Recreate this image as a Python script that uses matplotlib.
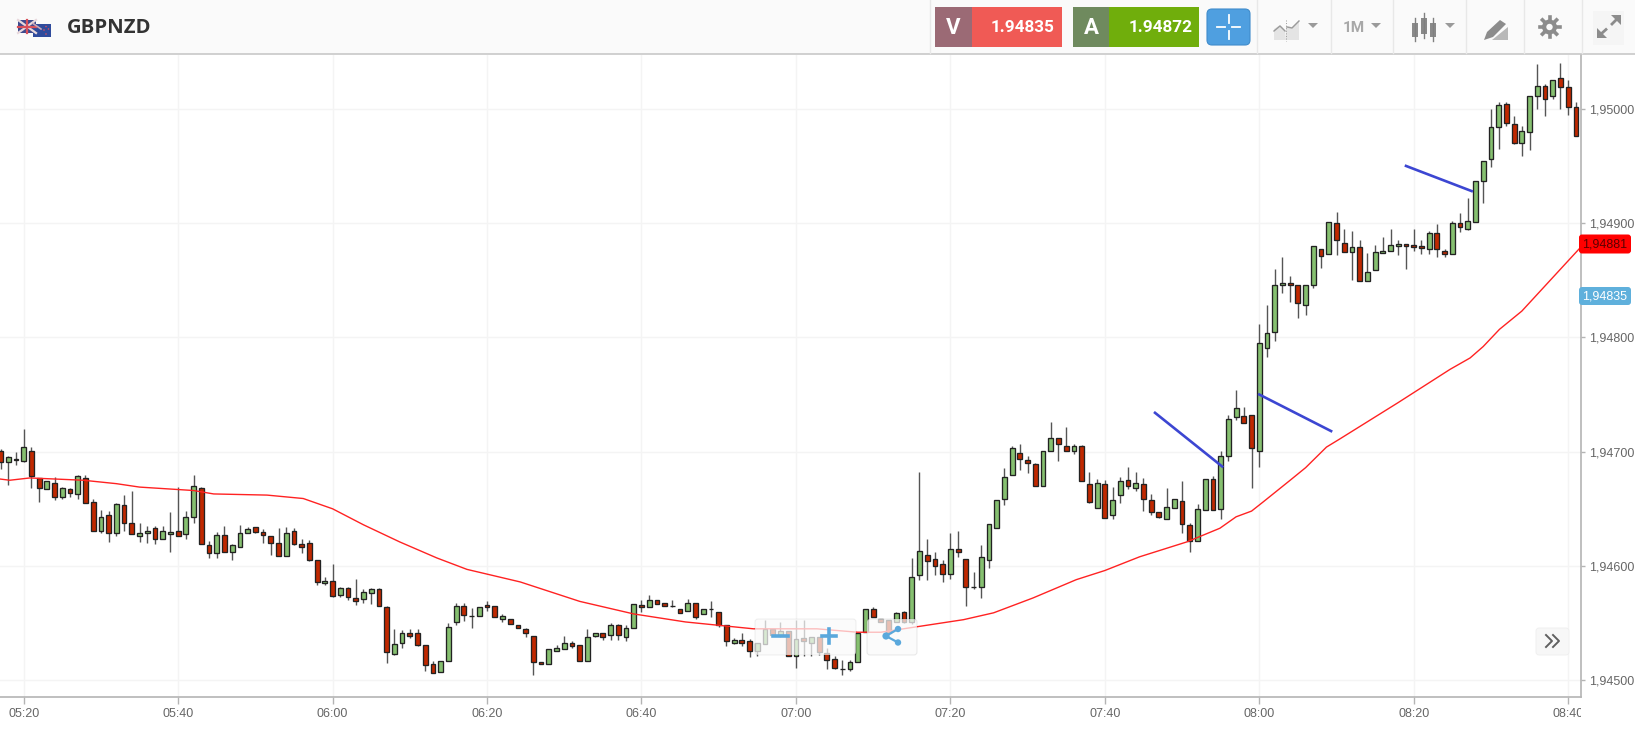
#GBPNZD 1 minute candles
import numpy as np
import matplotlib
matplotlib.use('Agg')
import matplotlib.pyplot as plt
from matplotlib.patches import Rectangle, FancyBboxPatch, Circle, Polygon
from matplotlib.transforms import Bbox

W, H = 1635, 729
BASE = 1.945  # candle values below are in points (0.00001) above this

# one candle per minute, first one is 3 minutes before 05:20
first_minute = -3
opens = [201,191,194,192,
    201,177,167,173,160,167,163,177,156,131,
    145,129,153,138,126,129,133,124,128,131,
    128,143,168,118,111,127,112,117,129,134,
    130,126,120,109,131,119,120,105,85,87,
    75,81,72,71,76,80,64,23,33,41,
    41,31,14,7,17,51,65,56,56,66,
    65,54,54,48,45,39,16,14,26,27,
    33,31,17,39,41,40,48,38,46,66,
    64,70,68,65,62,61,68,58,62,60,
    48,33,35,34,26,32,45,40,43,21,
    37,33,38,24,19,10,10,16,42,62,
    54,53,51,60,51,92,110,106,102,93,
    115,106,82,82,105,133,159,180,199,193,
    189,170,201,212,205,201,205,172,151,172,
    145,162,175,168,172,158,147,141,151,157,
    136,122,149,176,150,196,230,231,232,201,
    291,305,346,348,346,328,346,377,373,400,
    383,375,379,349,359,374,376,380,382,381,
    380,377,391,376,373,400,395,401,437,456,
    484,504,487,470,480,511,520,511,527,519,
    502]
highs = [202,196,200,220,
    204,177,174,178,169,168,180,180,159,149,
    148,155,162,166,138,135,135,135,147,169,
    148,180,169,122,130,135,119,136,134,134,
    132,126,133,134,133,124,123,105,90,102,
    82,82,89,80,81,81,65,45,44,45,
    45,31,17,17,50,68,68,63,64,69,
    65,58,54,48,46,39,16,27,31,39,
    34,31,45,41,41,50,49,48,67,70,
    75,70,68,70,62,71,68,62,69,60,
    48,37,41,36,33,53,45,51,43,53,
    53,38,38,28,21,18,18,41,62,64,
    54,53,60,61,107,182,124,112,105,129,
    131,106,95,118,137,158,186,205,207,196,
    190,201,226,212,222,207,206,182,176,175,
    169,178,187,182,177,163,147,168,159,174,
    138,154,176,179,201,232,254,239,232,312,
    328,360,370,354,346,346,380,377,401,410,
    395,393,385,374,381,388,395,385,382,395,
    385,393,399,377,402,409,422,437,454,500,
    506,506,494,485,511,539,522,525,540,525,
    506]
lows = [185,171,188,191,
    168,156,167,158,159,160,159,155,131,129,
    121,126,131,128,121,120,119,124,112,126,
    124,138,119,107,107,112,105,117,129,129,
    120,110,109,109,118,111,104,83,83,73,
    73,70,66,68,67,65,15,22,28,37,
    30,8,6,7,17,48,52,46,56,61,
    55,51,49,46,38,5,14,14,26,27,
    28,17,17,38,35,35,35,34,46,60,
    64,67,65,64,59,61,54,58,55,47,
    30,32,30,20,21,32,40,38,21,11,
    21,21,22,10,10,5,8,16,42,55,
    51,41,51,50,49,88,88,92,86,89,
    108,65,80,72,98,133,153,180,184,181,
    170,170,201,192,201,198,174,155,151,142,
    141,155,167,166,148,145,142,141,151,129,
    112,122,149,149,141,192,228,225,168,187,
    283,297,339,331,317,320,343,361,373,372,
    375,350,349,349,359,374,376,372,360,376,
    373,373,370,370,373,392,394,401,418,449,
    465,485,469,459,464,500,494,509,500,495,
    476]
closes = [191,195,193,204,
    179,168,174,160,168,164,179,155,131,143,
    129,154,138,128,129,131,124,131,130,126,
    143,170,119,111,127,112,118,129,132,130,
    127,120,109,129,119,117,105,86,87,74,
    81,73,69,77,80,65,25,32,41,39,
    31,13,6,17,47,65,57,56,64,64,
    55,56,49,46,41,16,14,27,28,33,
    30,17,38,41,38,48,40,46,67,64,
    70,67,65,65,59,68,55,62,62,48,
    34,35,33,26,33,45,40,43,21,36,
    34,38,25,18,11,10,16,41,62,55,
    51,41,59,51,90,113,104,100,93,115,
    112,82,82,108,137,158,178,203,194,190,
    170,201,212,207,201,205,174,156,173,142,
    158,174,170,173,159,147,143,152,159,137,
    122,150,176,149,196,229,238,225,203,295,
    304,346,348,346,330,346,380,371,401,385,
    375,379,349,357,375,376,381,382,380,379,
    378,391,377,373,400,397,402,437,454,484,
    503,488,470,481,511,520,509,525,519,502,
    476]

# red moving average, read at its bends
ma_minutes = [-3,-1.8,0.8,7.7,12,15,22,24.6,31.5,36.2,40,44,48.7,53.5,57.4,64.3,72,79,85.7,
    94.5,102.7,108,111,121.7,125.6,130.7,136.3,140,144.5,150.6,154.9,157,159,160.5,164,166,
    168.7,170.4,178,184.7,187.3,189,191.1,194,201.5]
ma_points = [176,175,177,175,172,169,166,163,162,159,150,136,121,107,97,86,69,58,51,
    45,45,42,42,53,59,72,88,96,108,121,133,143,148,156,175,186,
    204,211,243,272,282,292,307,323,378]

# the three hand drawn blue lines: (minute, points)
blue_x = [[146.5,155.2],[160,169.3],[179,187.5]]
blue_y = [[234,187],[250,218],[450,428]]

tick_minutes = [0,20,40,60,80,100,120,140,160,180,200]
tick_times = ['05:20','05:40','06:00','06:20','06:40','07:00','07:20','07:40','08:00','08:20','08:40']
price_ticks = [1.945,1.946,1.947,1.948,1.949,1.95]
price_labels = ['1,94500','1,94600','1,94700','1,94800','1,94900','1,95000']

minutes = first_minute + np.arange(len(opens))
o = BASE + np.array(opens)*1e-5
h = BASE + np.array(highs)*1e-5
l = BASE + np.array(lows)*1e-5
c = BASE + np.array(closes)*1e-5
up = c >= o

plt.rcParams['font.family'] = ['Liberation Sans', 'DejaVu Sans']
fig = plt.figure(figsize=(W/100, H/100), dpi=100, facecolor='white')

ax = fig.add_axes([0, (H-696.7)/H, 1581.3/W, (696.7-54.5)/H])
ax.set_xlim(-3.07, 201.7)
ax.set_ylim(BASE-14.4e-5, BASE+547.5e-5)
ax.set_axisbelow(True)
ax.grid(True, color='#f4f4f4', lw=1.0)
for s in ['top','left']:
    ax.spines[s].set_visible(False)
for s in ['right','bottom']:
    ax.spines[s].set_color('#b4b4b4')
    ax.spines[s].set_linewidth(1.2)

ax.vlines(minutes, l, h, color='#555555', lw=1.0, zorder=2)
ax.bar(minutes, np.abs(c-o), bottom=np.minimum(o,c), width=0.62,
       color=np.where(up,'#86c070','#c02800'), edgecolor='#222222', linewidth=0.95, zorder=3)
ax.plot(ma_minutes, BASE+np.array(ma_points)*1e-5, color='#ff2222', lw=1.0, zorder=4)
for bx, by in zip(blue_x, blue_y):
    ax.plot(bx, BASE+np.array(by)*1e-5, color='#3c46d2', lw=1.9, zorder=5)

ax.set_xticks(tick_minutes)
ax.set_xticklabels(tick_times)
ax.set_yticks(price_ticks)
ax.set_yticklabels(price_labels)
ax.yaxis.tick_right()
ax.tick_params(axis='x', length=5, width=1, color='#b4b4b4', labelsize=9, labelcolor='#666666', pad=3)
ax.tick_params(axis='y', length=3, width=1, color='#b4b4b4', labelsize=9, labelcolor='#666666', pad=2.5)
# last time label is cut by the right edge of the plot
for lab in ax.get_xticklabels():
    lab.set_clip_on(True)
    lab.set_clip_box(Bbox([[0,0],[1581,H]]))

# header, buttons and price tags live on a pixel overlay
ov = fig.add_axes([0,0,1,1], facecolor='none', zorder=10)
ov.set_xlim(0,W)
ov.set_ylim(H,0)
ov.axis('off')

ov.add_patch(Rectangle((0,0),W,54,fc='#fafafa',ec='none'))
ov.plot([0,W],[54.2,54.2],color='#c4c4c4',lw=1.1)
for sx in [930,1257,1331,1393,1466,1524,1582]:
    ov.plot([sx,sx],[0,53],color='#e8e8e8',lw=1)

# flags
ov.add_patch(Rectangle((18,20),18,13,fc='#3d4a8e',ec='none'))
ov.plot([18,36],[20,33],color='#e8d8dc',lw=1.6)
ov.plot([18,36],[33,20],color='#e8d8dc',lw=1.6)
ov.plot([27,27],[20,33],color='#d8505a',lw=1.6)
ov.plot([18,36],[26.5,26.5],color='#d8505a',lw=1.6)
ov.add_patch(Rectangle((33,23.5),18,13,fc='#2f4b9c',ec='none'))
ov.plot([33,41],[23.5,29],color='#c8a8b8',lw=1.2)
for fx,fy in [(46,26.5),(48.5,29),(44,30),(46,34)]:
    ov.add_patch(Circle((fx,fy),0.8,fc='#d85060',ec='none'))
ov.text(67,27.5,'GBPNZD',family=['Open Sans','DejaVu Sans'],weight='bold',fontsize=14.6,color='#333333',va='center',ha='left')

# sell and buy boxes
ov.add_patch(Rectangle((935,7),37,40,fc='#9b6a75',ec='none'))
ov.add_patch(Rectangle((972,7),90,40,fc='#f05a55',ec='none'))
ov.add_patch(Rectangle((1073,7),36,40,fc='#6f8a5e',ec='none'))
ov.add_patch(Rectangle((1109,7),90,40,fc='#70ae0c',ec='none'))
ov.text(953.5,27.5,'V',family=['Roboto'],weight='bold',fontsize=16,color='white',ha='center',va='center')
ov.text(1091,27.5,'A',family=['Roboto'],weight='bold',fontsize=16,color='white',ha='center',va='center')
ov.text(1023,27.5,'1.94835',family=['Roboto'],weight='bold',fontsize=12.3,color='white',ha='center',va='center')
ov.text(1160.5,27.5,'1.94872',family=['Roboto'],weight='bold',fontsize=12.3,color='white',ha='center',va='center')

# crosshair button
ov.add_patch(FancyBboxPatch((1210,12),37,30,boxstyle='round,pad=3,rounding_size=5',fc='#4f9fe0',ec='#3f8ccc',lw=0.8))
ov.plot([1217,1225],[27,27],color='white',lw=1.3)
ov.plot([1232,1240],[27,27],color='white',lw=1.3)
ov.plot([1228.5,1228.5],[15,23],color='white',lw=1.3)
ov.plot([1228.5,1228.5],[31,39],color='white',lw=1.3)

# toolbar icons
grey = '#9a9a9a'
ov.add_patch(Polygon([(1274,40),(1274,29),(1280,25),(1285,30),(1286,40)],fc='#e4e4e4',ec='none'))
ov.add_patch(Polygon([(1286,40),(1286,26),(1292,27),(1299,20),(1299,40)],fc='#e4e4e4',ec='none'))
ov.plot([1274,1280,1285],[31,26,31],color=grey,lw=1)
ov.plot([1287,1292,1299],[27,28,21],color=grey,lw=1)
ov.plot([1285.5,1285.5],[20,41],color=grey,lw=0.7,ls=':')
for cx in [1313,1376,1450]:
    ov.add_patch(Polygon([(cx-5,23),(cx+5,23),(cx,28)],fc=grey,ec='none'))
ov.text(1354,28,'1M',family=['Roboto'],weight='bold',fontsize=11,color='#a8a8a8',ha='center',va='center')
for cx,t,b in [(1415,23,37),(1424,18,34),(1433,23,37)]:
    ov.plot([cx,cx],[t-5,b+4],color='#808080',lw=1)
    ov.add_patch(Rectangle((cx-3,t),6,b-t,fc='#8a8a8a',ec='none'))
ov.add_patch(Polygon([(1484,40),(1487,32),(1500,20),(1506,24),(1493,37)],fc='#8c8c8c',ec='none'))
ov.add_patch(Polygon([(1492,40),(1508,27),(1508,40)],fc='#b8b8b8',ec='none'))
ov.add_patch(Circle((1549.5,27),7.5,fc='#8c8c8c',ec='none'))
for a in np.arange(0,360,45):
    ov.plot([1549.5+6*np.cos(np.radians(a)),1549.5+10*np.cos(np.radians(a))],
            [27+6*np.sin(np.radians(a)),27+10*np.sin(np.radians(a))],color='#8c8c8c',lw=2.6)
ov.add_patch(Circle((1549.5,27),3.2,fc='#fafafa',ec='none'))
ov.add_patch(Rectangle((1593,11),31,34,fc='#f5f5f5',ec='none'))
ov.add_patch(Polygon([(1611,15),(1621,15),(1621,25)],fc='#8c8c8c',ec='none'))
ov.add_patch(Polygon([(1597,28),(1597,38),(1607,38)],fc='#8c8c8c',ec='none'))
ov.plot([1601,1606],[34,29.5],color='#8c8c8c',lw=2)
ov.plot([1612,1617],[24,19],color='#8c8c8c',lw=2)

# price tags on the right
ov.add_patch(FancyBboxPatch((1581,236.5),48,15,boxstyle='round,pad=2,rounding_size=3',fc='#ff0000',ec='none'))
ov.text(1605,244.2,'1,94881',fontsize=9,color='#5a0000',ha='center',va='center')
ov.add_patch(FancyBboxPatch((1581,289),48,14,boxstyle='round,pad=2,rounding_size=3',fc='#5fb0dc',ec='none'))
ov.text(1605,296.2,'1,94835',fontsize=9,color='white',ha='center',va='center')

# zoom and share buttons over the chart
ov.add_patch(FancyBboxPatch((757,621),97,32,boxstyle='round,pad=2,rounding_size=3',fc=(0.98,0.98,0.98,0.72),ec=(0,0,0,0.06),lw=0.8))
ov.add_patch(FancyBboxPatch((869,621),46,32,boxstyle='round,pad=2,rounding_size=3',fc=(0.98,0.98,0.98,0.72),ec=(0,0,0,0.08),lw=0.8))
zb = '#5aa8dc'
ov.plot([773,788],[636,636],color=zb,lw=2.6)
ov.plot([822,836],[636,636],color=zb,lw=2.6)
ov.plot([829,829],[629,643],color=zb,lw=2.6)
ov.plot([898,886,898],[629,636,642.5],color=zb,lw=1.6)
for sx,sy,sr in [(886,636,3.6),(898,629,3.2),(898,642.5,3.2)]:
    ov.add_patch(Circle((sx,sy),sr,fc=zb,ec='none'))

# scroll button
ov.add_patch(FancyBboxPatch((1538,630),29,23,boxstyle='round,pad=2,rounding_size=3',fc='#f7f7f7',ec='#eeeeee',lw=0.6))
ov.plot([1546,1552,1546],[635,641,647],color='#606060',lw=1.4)
ov.plot([1553,1559,1553],[635,641,647],color='#606060',lw=1.4)

fig.savefig('out.png', dpi=100)
